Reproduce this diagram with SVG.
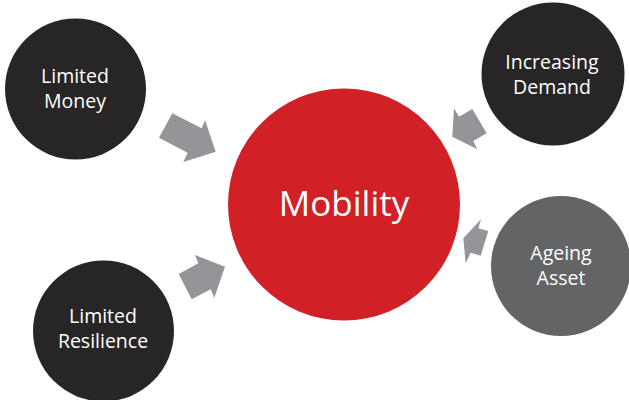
<svg xmlns="http://www.w3.org/2000/svg" width="629" height="400" viewBox="0 0 629 400">
<style>
.dark{fill:#272525}
.grey{fill:#636466}
.red{fill:#d12026}
.arrow{fill:#939598}
text{font-family:"Open Sans","Noto Sans","DejaVu Sans",sans-serif;fill:#fff;text-anchor:middle;font-size:19.5px}
.big{font-size:35px}
</style>
<rect width="629" height="400" fill="#fff"/>
<g id="connectors">
<polygon class="arrow" points="172.3,113.3 201.7,128.3 205,120 215.7,151.7 183.3,162 187.7,152.7 159,137.7"/>
<polygon class="arrow" points="195,255 225,266.7 214.3,297.7 210.7,289.3 191.7,299.3 178.7,274 198.3,263.3"/>
<polygon class="arrow" points="454,108.3 459,116.7 472.3,109 486.7,133.3 473.3,141 477.3,149.3 452.3,136.7"/>
<polygon class="arrow" points="481,219.3 478.3,228.3 488.3,231 480.7,255.7 470.7,252.7 465.7,263.3 463.3,238.3"/>
</g>
<g id="node-mobility"><circle class="red" cx="344" cy="204.5" r="116"/><text class="big" x="344" y="216">Mobility</text></g>
<g id="node-limited-money"><circle class="dark" cx="75.5" cy="89" r="70.5"/><text x="75" y="83">Limited</text><text x="75" y="108">Money</text></g>
<g id="node-increasing-demand"><circle class="dark" cx="553" cy="74" r="71.5"/><text x="552" y="69">Increasing</text><text x="552" y="94">Demand</text></g>
<g id="node-ageing-asset"><circle class="grey" cx="561" cy="266" r="70"/><text x="561" y="260">Ageing</text><text x="561" y="285">Asset</text></g>
<g id="node-limited-resilience"><circle class="dark" cx="103.5" cy="331" r="70.5"/><text x="103" y="323">Limited</text><text x="103" y="348">Resilience</text></g>
</svg>
